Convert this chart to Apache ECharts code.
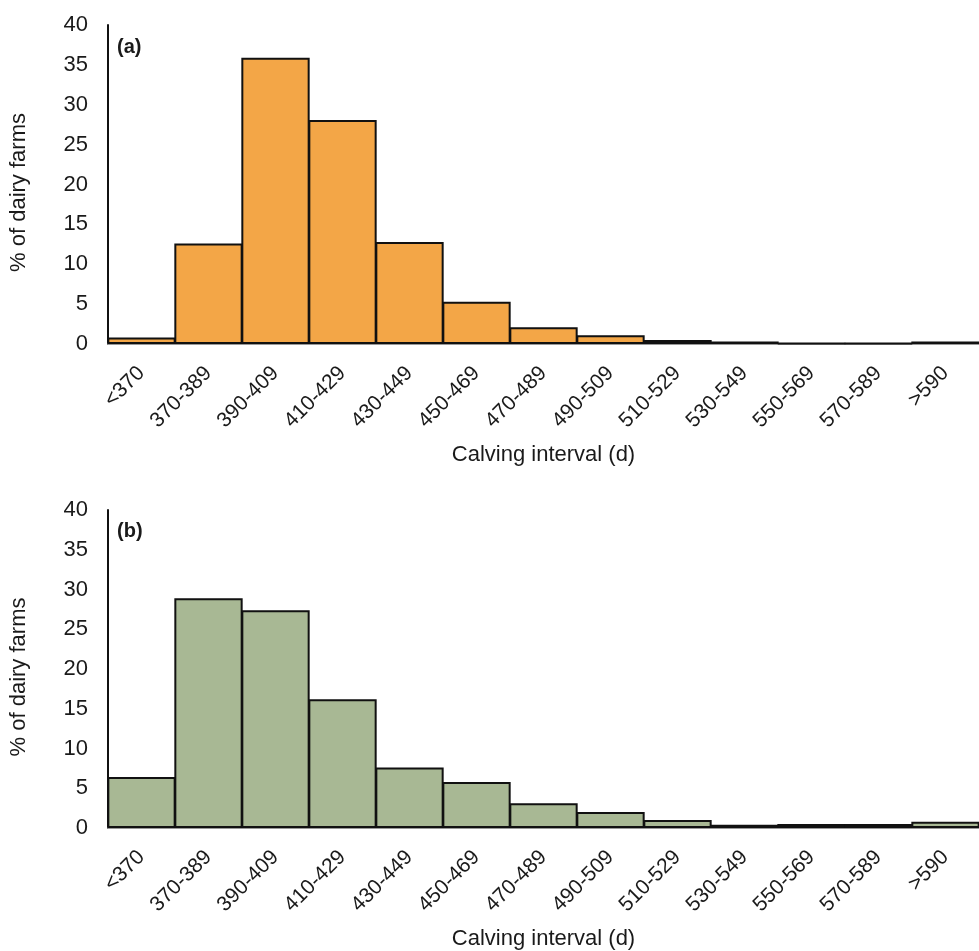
<!DOCTYPE html>
<html>
<head>
<meta charset="utf-8">
<script src="https://cdn.jsdelivr.net/npm/echarts@6/dist/echarts.min.js"></script>
<style>html,body{margin:0;padding:0;background:#fff}#c{width:979px;height:951px}</style>
</head>
<body>
<div id="c"></div>
<script>
const categories = ['<370','370-389','390-409','410-429','430-449','450-469','470-489','490-509','510-529','530-549','550-569','570-589','>590'];
const valuesA = [0.8, 12.6, 35.9, 28.1, 12.8, 5.3, 2.1, 1.1, 0.5, 0.3, 0.1, 0.1, 0.3];
const valuesB = [6.4, 28.9, 27.4, 16.2, 7.6, 5.8, 3.1, 2.0, 1.0, 0.4, 0.5, 0.5, 0.8];
const yTicks = [0, 5, 10, 15, 20, 25, 30, 35, 40];
const panelLabels = ['(a)', '(b)'];
const xName = 'Calving interval (d)';
const yName = '% of dairy farms';

const font = 'Liberation Sans, Arial, sans-serif';
const txt = '#1a1a1a';
const chart = echarts.init(document.getElementById('c'));

function xAxisCfg(i){
  return {
    type:'category', gridIndex:i, data:categories,
    axisLine:{lineStyle:{color:'#999', width:2}},
    axisTick:{show:false},
    axisLabel:{rotate:45, fontSize:21, color:txt, fontFamily:font, margin:26, interval:0},
    name:xName, nameLocation:'middle', nameGap:100,
    nameTextStyle:{fontSize:22, color:txt, fontFamily:font}
  };
}
function yAxisCfg(i){
  return {
    type:'value', gridIndex:i, min:yTicks[0], max:yTicks[yTicks.length-1], interval:yTicks[1]-yTicks[0],
    axisLine:{show:true, lineStyle:{color:'#111', width:2}},
    axisTick:{show:false},
    splitLine:{show:false},
    axisLabel:{fontSize:22, color:txt, fontFamily:font, margin:20},
    name:yName, nameLocation:'middle', nameGap:78,
    nameTextStyle:{fontSize:22, color:txt, fontFamily:font, padding:[0,16,0,0]}
  };
}
function barSeries(i, vals, color){
  return {
    type:'bar', xAxisIndex:i, yAxisIndex:i, data:vals,
    barWidth:'102%',
    itemStyle:{color:color, borderColor:'#111', borderWidth:2},
    silent:true
  };
}

chart.setOption({
  animation:false,
  backgroundColor:'#fff',
  grid:[
    {left:108, right:-10, top:25, height:319},
    {left:108, right:-10, top:510, height:318}
  ],
  xAxis:[xAxisCfg(0), xAxisCfg(1)],
  yAxis:[yAxisCfg(0), yAxisCfg(1)],
  series:[barSeries(0, valuesA, '#F3A647'), barSeries(1, valuesB, '#A8B894')],
  graphic:[
    {type:'text', left:117, top:37, style:{text:panelLabels[0], font:'bold 20px '+font, fill:txt}},
    {type:'text', left:117, top:521, style:{text:panelLabels[1], font:'bold 20px '+font, fill:txt}}
  ]
});
</script>
</body>
</html>
